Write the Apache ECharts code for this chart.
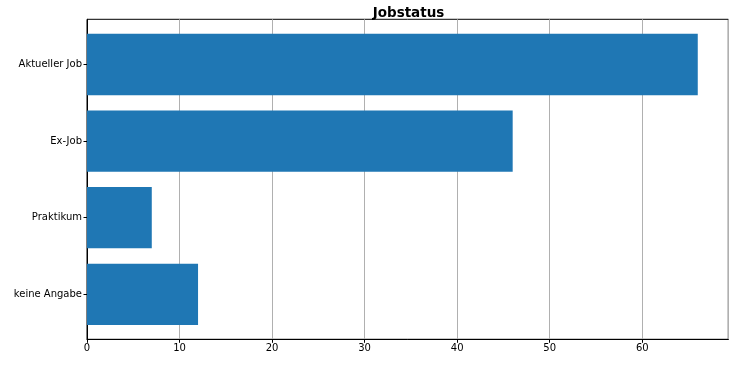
<!DOCTYPE html>
<html>
<head>
<meta charset="utf-8">
<script src="https://cdn.jsdelivr.net/npm/echarts@6/dist/echarts.min.js"></script>
<style>html,body{margin:0;padding:0;background:#fff;}#c{width:753px;height:367px;}</style>
</head>
<body>
<div id="c"></div>
<script>
const categories = ["Aktueller Job", "Ex-Job", "Praktikum", "keine Angabe"];
const values = [66, 46, 7, 12];
const xTicksInterval = 10;
const xMax = 69.3;
const titleText = "Jobstatus";

const font = "DejaVu Sans";
const chart = echarts.init(document.getElementById('c'), null, {renderer: 'canvas'});
chart.setOption({
  animation: false,
  backgroundColor: '#fff',
  title: {
    text: titleText, left: 403.5, top: 1, textAlign: 'center',
    textStyle: {fontFamily: font, fontSize: 13.5, fontWeight: 'bold', color: '#000'}
  },
  grid: [
    {left: 87, right: 24.7, top: 19.3, bottom: 27.7, show: true, borderColor: '#000', borderWidth: 1, backgroundColor: 'transparent'},
    {left: 87, right: 24.7, top: 26.2, bottom: 34.4}
  ],
  xAxis: [
    {type: 'value', gridIndex: 0, min: 0, max: xMax, interval: xTicksInterval,
     axisLine: {show: true, lineStyle: {color: '#000', width: 1}},
     axisTick: {show: true, inside: false, length: 3.5, lineStyle: {color: '#000', width: 1}},
     axisLabel: {show: true, margin: 4, fontFamily: font, fontSize: 10, color: '#000', showMaxLabel: false},
     splitLine: {show: true, lineStyle: {color: '#b0b0b0', width: 1}}},
    {type: 'value', gridIndex: 1, min: 0, max: xMax, show: false}
  ],
  yAxis: [
    {type: 'value', gridIndex: 0, min: 0, max: 1, axisLine: {show: true, lineStyle: {color: '#000'}}, axisTick: {show: false}, axisLabel: {show: false}, splitLine: {show: false}},
    {type: 'category', gridIndex: 1, data: categories, inverse: true,
     axisLine: {show: false},
     axisTick: {show: true, alignWithLabel: true, length: 3.5, lineStyle: {color: '#000', width: 1}},
     axisLabel: {margin: 5, fontFamily: font, fontSize: 10, color: '#000'},
     splitLine: {show: false}}
  ],
  series: [{
    type: 'bar', xAxisIndex: 1, yAxisIndex: 1, data: values, barWidth: 61.3,
    itemStyle: {color: '#1f77b4'}
  }]
});
</script>
</body>
</html>
